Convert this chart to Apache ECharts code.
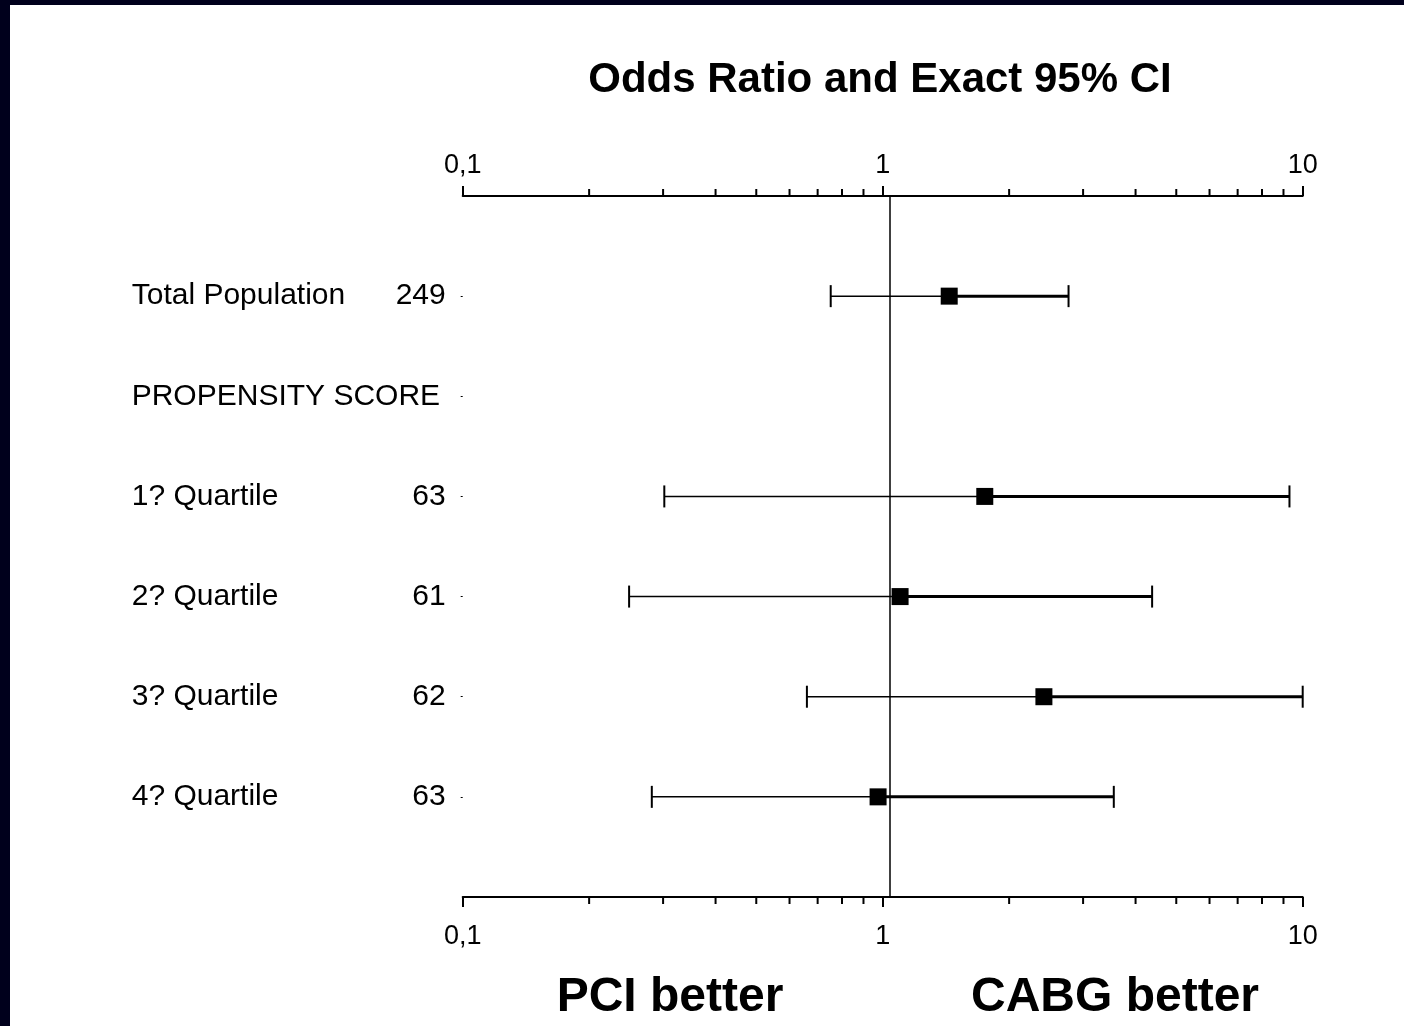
<!DOCTYPE html>
<html>
<head>
<meta charset="utf-8">
<script src="https://cdn.jsdelivr.net/npm/echarts@6/dist/echarts.min.js"></script>
<style>
html,body{margin:0;padding:0;background:#00001c;overflow:hidden;}
#chart{width:1404px;height:1026px;}
</style>
</head>
<body>
<div id="chart"></div>
<script>
// ---- data ----
const rowLabels = ['Total Population', 'PROPENSITY SCORE', '1? Quartile', '2? Quartile', '3? Quartile', '4? Quartile'];
const rowCounts = ['249', '', '63', '61', '62', '63'];
const oddsRatio = [1.44, null, 1.75, 1.10, 2.42, 0.975];
const ciLower   = [0.752, null, 0.302, 0.249, 0.66, 0.282];
const ciUpper   = [2.77, null, 9.3, 4.38, 10.0, 3.55];
const tickValues = [0.1, 1, 10];
const tickLabels = ['0,1', '1', '10'];
const minorTickValues = [0.2, 0.3, 0.4, 0.5, 0.6, 0.7, 0.8, 0.9, 2, 3, 4, 5, 6, 7, 8, 9];
const referenceLine = 1.037;
const titleText = 'Odds Ratio and Exact 95% CI';
const leftNote = 'PCI better';
const rightNote = 'CABG better';

// ---- derived ----
const rowPos = rowLabels.map((_, i) => i + 1);
const yMin = 0, yMax = rowLabels.length + 1;
const forestData = [];
rowLabels.forEach((_, i) => {
  if (oddsRatio[i] != null) forestData.push([oddsRatio[i], ciLower[i], ciUpper[i], rowPos[i]]);
});
const minorData = minorTickValues.map(v => [v, yMin]);

const FONT = '"Liberation Sans", Arial, Helvetica, sans-serif';
const tickFmt = v => {
  const k = tickValues.findIndex(t => Math.abs(Math.log10(t) - Math.log10(v)) < 1e-6);
  return k >= 0 ? tickLabels[k] : '';
};

const chart = echarts.init(document.getElementById('chart'), null, {renderer: 'canvas'});

const xAxisBase = {
  type: 'log',
  logBase: 10,
  min: tickValues[0],
  max: tickValues[tickValues.length - 1],
  gridIndex: 0,
  splitLine: {show: false},
  axisLine: {show: true, onZero: false, lineStyle: {color: '#000', width: 2}},
  axisTick: {show: true, length: 10, lineStyle: {color: '#000', width: 2}},
  axisLabel: {show: true, color: '#000', fontSize: 27, fontFamily: FONT, formatter: tickFmt}
};

const option = {
  backgroundColor: '#00001c',
  animation: false,
  graphic: [{
    type: 'rect', z: -100, silent: true,
    shape: {x: 10, y: 5, width: 1394, height: 1021},
    style: {fill: '#ffffff'}
  }],
  title: [
    {text: titleText, left: 875, top: 54, textAlign: 'center',
     textStyle: {fontSize: 42, fontWeight: 'bold', color: '#000', fontFamily: FONT}},
    {text: leftNote, left: 665, top: 969, textAlign: 'center',
     textStyle: {fontSize: 48, fontWeight: 'bold', color: '#000', fontFamily: FONT}},
    {text: rightNote, left: 1110, top: 969, textAlign: 'center',
     textStyle: {fontSize: 48, fontWeight: 'bold', color: '#000', fontFamily: FONT}}
  ],
  grid: {left: 462.7, right: 101.3, top: 196, bottom: 129, containLabel: false, outerBoundsMode: 'none'},
  xAxis: [
    Object.assign({}, xAxisBase, {position: 'bottom',
      axisLabel: Object.assign({}, xAxisBase.axisLabel, {margin: 26})}),
    Object.assign({}, xAxisBase, {position: 'top',
      axisLabel: Object.assign({}, xAxisBase.axisLabel, {margin: 17})})
  ],
  yAxis: {
    type: 'value',
    min: yMin, max: yMax, interval: 1, inverse: true,
    splitLine: {show: false},
    axisLine: {show: false},
    axisTick: {show: true, length: 2, customValues: rowPos, lineStyle: {color: '#000', width: 1}},
    axisLabel: {
      show: true, customValues: rowPos, align: 'left', margin: 331,
      color: '#000', fontSize: 30, fontFamily: FONT,
      formatter: v => {
        const i = Math.round(v) - 1;
        if (i < 0 || i >= rowLabels.length) return '';
        return rowCounts[i]
          ? '{n|' + rowLabels[i] + '}{c|' + rowCounts[i] + '}'
          : '{t|' + rowLabels[i] + '}';
      },
      rich: {
        n: {width: 250, align: 'left', fontSize: 30, color: '#000', fontFamily: FONT},
        c: {width: 64, align: 'right', fontSize: 30, color: '#000', fontFamily: FONT},
        t: {fontSize: 30, color: '#000', fontFamily: FONT}
      }
    }
  },
  series: [
    {
      name: 'minor ticks', type: 'custom', xAxisIndex: 0, yAxisIndex: 0,
      data: minorData, encode: {x: 0, y: 1}, clip: false, silent: true, z: 3,
      renderItem: (params, api) => {
        const v = api.value(0);
        const top = api.coord([v, yMin]);
        const bot = api.coord([v, yMax]);
        return {type: 'group', children: [
          {type: 'line', shape: {x1: top[0], y1: top[1], x2: top[0], y2: top[1] - 7},
           style: {stroke: '#000', lineWidth: 2}},
          {type: 'line', shape: {x1: bot[0], y1: bot[1], x2: bot[0], y2: bot[1] + 7},
           style: {stroke: '#000', lineWidth: 2}}
        ]};
      }
    },
    {
      name: 'Odds ratio', type: 'custom', xAxisIndex: 0, yAxisIndex: 0,
      data: forestData, encode: {x: [0, 1, 2], y: 3}, clip: false, z: 5,
      renderItem: (params, api) => {
        const y = api.value(3);
        const p = api.coord([api.value(0), y]);
        const lo = api.coord([api.value(1), y]);
        const hi = api.coord([api.value(2), y]);
        const cap = 11, s = 17;
        return {type: 'group', children: [
          {type: 'line', shape: {x1: lo[0], y1: lo[1], x2: p[0], y2: p[1]}, style: {stroke: '#000', lineWidth: 1.5}},
          {type: 'line', shape: {x1: p[0], y1: p[1], x2: hi[0], y2: hi[1]}, style: {stroke: '#000', lineWidth: 3}},
          {type: 'line', shape: {x1: lo[0], y1: lo[1] - cap, x2: lo[0], y2: lo[1] + cap}, style: {stroke: '#000', lineWidth: 2}},
          {type: 'line', shape: {x1: hi[0], y1: hi[1] - cap, x2: hi[0], y2: hi[1] + cap}, style: {stroke: '#000', lineWidth: 2}},
          {type: 'rect', shape: {x: p[0] - s / 2, y: p[1] - s / 2, width: s, height: s}, style: {fill: '#000'}}
        ]};
      },
      markLine: {
        silent: true, symbol: ['none', 'none'], label: {show: false},
        lineStyle: {color: '#000', width: 1.5, type: 'solid'},
        data: [{xAxis: referenceLine}]
      }
    }
  ]
};
chart.setOption(option);
</script>
</body>
</html>
